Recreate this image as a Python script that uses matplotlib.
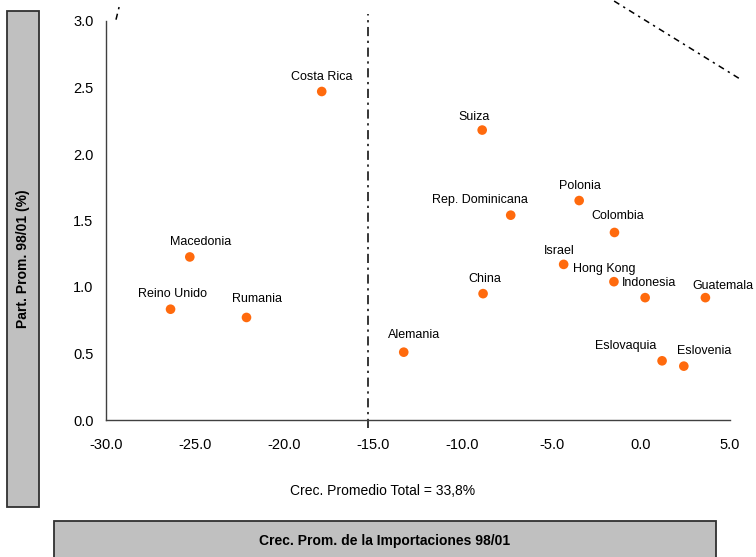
import matplotlib
matplotlib.use("Agg")
import matplotlib.pyplot as plt
from matplotlib.patches import Rectangle

plt.rcParams['font.family'] = ['Liberation Sans', 'DejaVu Sans']

# ---- data ----
countries = ["Costa Rica", "Suiza", "Rep. Dominicana", "Polonia", "Colombia", "Israel",
             "Hong Kong", "Indonesia", "Guatemala", "China", "Alemania", "Eslovaquia",
             "Eslovenia", "Macedonia", "Reino Unido", "Rumania"]
crec = [-17.9, -8.9, -7.3, -3.46, -1.48, -4.33, -1.51, 0.24, 3.62, -8.85, -13.3, 1.19,
        2.41, -25.3, -26.38, -22.12]
part = [2.47, 2.18, 1.54, 1.65, 1.41, 1.17, 1.04, 0.92, 0.92, 0.95, 0.51, 0.445,
        0.405, 1.226, 0.833, 0.771]
# label offsets (pixels) relative to each point
label_dx = [0, -8, -31, 1, 3, -4, -10, 4, 18, 2, 10, -36, 20, 11, 2, 11]
label_dy = [14, 13, 15, 15, 16, 13, 13, 15, 12, 15, 17, 15, 15, 15, 15, 18]

ref_x = -15.3  # vertical reference line
xticks = [-30.0, -25.0, -20.0, -15.0, -10.0, -5.0, 0.0, 5.0]
yticks = [0.0, 0.5, 1.0, 1.5, 2.0, 2.5, 3.0]
# decorative dash-dot arc fragments (data coords)
frag_left_x = [-29.44, -29.22]
frag_left_y = [3.01, 3.13]
frag_right_x = [-1.50, 5.61]
frag_right_y = [3.15, 2.56]

W, H = 756, 557
fig = plt.figure(figsize=(W / 100, H / 100), dpi=100)
fig.patch.set_facecolor("white")

ax = fig.add_axes([106 / W, 1 - 420 / H, 624 / W, 399 / H])
ax.set_xlim(-30, 5)
ax.set_ylim(0, 3.0)
ax.set_xticks(xticks)
ax.set_yticks(yticks)
ax.set_xticklabels([f"{v:.1f}" for v in xticks])
ax.set_yticklabels([f"{v:.1f}" for v in yticks])
for s in ["top", "right"]:
    ax.spines[s].set_visible(False)
for s in ["left", "bottom"]:
    ax.spines[s].set_color("#404040")
    ax.spines[s].set_linewidth(1.0)
ax.tick_params(axis="both", length=0, labelsize=10.5, colors="black")
ax.tick_params(axis="x", pad=13)
ax.tick_params(axis="y", pad=9)

# reference line
ax.plot([ref_x, ref_x], [-0.06, 3.05], color="black", lw=1.1,
        linestyle=(0, (6, 3, 1.5, 3)), clip_on=False, zorder=2)
# decorative fragments
for fx, fy in [(frag_left_x, frag_left_y), (frag_right_x, frag_right_y)]:
    ax.plot(fx, fy, color="black", lw=1.1, linestyle=(0, (4, 3, 1.5, 3)),
            clip_on=False, zorder=2)

ax.scatter(crec, part, s=48, color="#FF6A0D", edgecolors="none", zorder=3, clip_on=False)
for name, x, y, dx, dy in zip(countries, crec, part, label_dx, label_dy):
    ax.annotate(name, (x, y), xytext=(dx, dy), textcoords="offset pixels",
                ha="center", va="center", fontsize=9, color="black", zorder=4,
                annotation_clip=False)

# y label box
fig.patches.append(Rectangle((7 / W, 1 - 507 / H), 32 / W, (507 - 11) / H,
                             transform=fig.transFigure, facecolor="#C0C0C0",
                             edgecolor="#303030", lw=1.3, zorder=0))
fig.text(23 / W, 1 - 259 / H, "Part. Prom. 98/01 (%)", rotation=90, ha="center",
         va="center", fontsize=10, fontweight="bold")

# x label box
fig.patches.append(Rectangle((54 / W, 1 - 560 / H), (716 - 54) / W, (560 - 521) / H,
                             transform=fig.transFigure, facecolor="#C0C0C0",
                             edgecolor="#303030", lw=1.3, zorder=0, clip_on=False))
fig.text(385 / W, 1 - 541 / H, "Crec. Prom. de la Importaciones 98/01", ha="center",
         va="center", fontsize=10, fontweight="bold")

fig.text(383 / W, 1 - 491 / H, "Crec. Promedio Total = 33,8%", ha="center",
         va="center", fontsize=10)

fig.savefig("out.png", dpi=100)
